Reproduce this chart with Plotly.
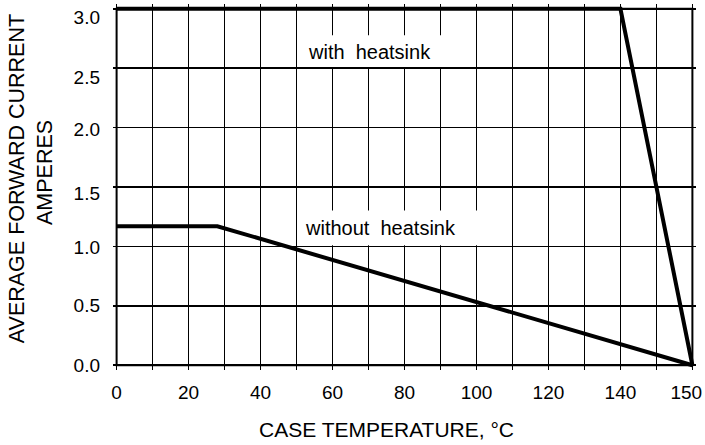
import plotly.graph_objects as go

# ---- data (x in chart grid units, y in amperes) ----
with_hs_x = [0, 140, 160]
with_hs_y = [3.0, 3.0, 0.0]
without_hs_x = [0, 28, 160]
without_hs_y = [1.17, 1.17, 0.0]

x_tick_labels = ["0", "20", "40", "60", "80", "100", "120", "140", "150"]
x_tick_values = [0, 20, 40, 60, 80, 100, 120, 140, 158.3]
y_tick_labels = ["0.0", "0.5", "1.0", "1.5", "2.0", "2.5", "3.0"]
y_tick_values = [0.0, 0.5, 0.99, 1.445, 1.985, 2.425, 2.931]

x_title = "CASE TEMPERATURE, °C"
y_title_1 = "AVERAGE FORWARD CURRENT"
y_title_2 = "AMPERES"
label_with = "with\u00a0 heatsink"
label_without = "without\u00a0 heatsink"

FONT = "Liberation Sans, Arial, sans-serif"
XR = [-1, 161]
YR = [-0.04, 3.04]

fig = go.Figure()
fig.add_trace(go.Scatter(x=with_hs_x, y=with_hs_y, mode="lines",
                         line=dict(color="black", width=4), showlegend=False, hoverinfo="skip"))
fig.add_trace(go.Scatter(x=without_hs_x, y=without_hs_y, mode="lines",
                         line=dict(color="black", width=4), showlegend=False, hoverinfo="skip"))
# invisible trace to activate label axes
fig.add_trace(go.Scatter(x=[None], y=[None], xaxis="x2", yaxis="y2", showlegend=False, hoverinfo="skip"))

grid_w = 1.6
fig.update_layout(
    width=705, height=445,
    margin=dict(l=113, r=9, t=4, b=75),
    paper_bgcolor="white", plot_bgcolor="white",
    font=dict(family=FONT, color="black", size=19),
    xaxis=dict(range=XR, tick0=0, dtick=10, showgrid=True, gridcolor="black", gridwidth=grid_w,
               showticklabels=False, zeroline=False, showline=False, ticks="", fixedrange=True),
    yaxis=dict(range=YR, tick0=0, dtick=0.5, showgrid=True, gridcolor="black", gridwidth=grid_w,
               showticklabels=False, zeroline=False, showline=False, ticks="", fixedrange=True),
    xaxis2=dict(range=XR, overlaying="x", anchor="y2", side="bottom", tickmode="array",
                tickvals=x_tick_values, ticktext=x_tick_labels, showgrid=False, zeroline=False,
                showline=False, ticks="", ticklabelstandoff=9, tickfont=dict(size=19)),
    yaxis2=dict(range=YR, overlaying="y", anchor="x2", side="left", tickmode="array",
                tickvals=y_tick_values, ticktext=y_tick_labels, showgrid=False, zeroline=False,
                showline=False, ticks="", ticklabelstandoff=12, tickfont=dict(size=19)),
)

shapes = [
    dict(type="rect", xref="x", yref="y", x0=50.4, x1=94.6, y0=2.51, y1=2.777,
         fillcolor="white", line=dict(width=0), layer="above"),
    dict(type="rect", xref="x", yref="y", x0=50.4, x1=104.9, y0=1.01, y1=1.302,
         fillcolor="white", line=dict(width=0), layer="above"),
    dict(type="rect", xref="x", yref="y", x0=0, x1=160, y0=0, y1=3.0,
         fillcolor="rgba(0,0,0,0)", line=dict(color="black", width=2), layer="above"),
]
fig.update_layout(shapes=shapes)

annots = [
    dict(text=label_with, x=70.4, y=2.633, xref="x", yref="y", showarrow=False,
         font=dict(size=20), xanchor="center", yanchor="middle"),
    dict(text=label_without, x=73.4, y=1.159, xref="x", yref="y", showarrow=False,
         font=dict(size=20), xanchor="center", yanchor="middle"),
    dict(text=x_title, x=(386.5 - 113) / 583, y=(370 - 429) / 366, xref="paper", yref="paper",
         showarrow=False, font=dict(size=21), xanchor="center", yanchor="middle"),
    dict(text=y_title_1, x=(16.7 - 113) / 583, y=(370 - 178.5) / 366, xref="paper", yref="paper",
         showarrow=False, font=dict(size=21.5), xanchor="center", yanchor="middle", textangle=-90),
    dict(text=y_title_2, x=(45 - 113) / 583, y=(370 - 173) / 366, xref="paper", yref="paper",
         showarrow=False, font=dict(size=21.5), xanchor="center", yanchor="middle", textangle=-90),
]
fig.update_layout(annotations=annots)

fig.write_html("out.html", config={"displayModeBar": False, "staticPlot": True},
               post_script="document.body.style.margin='0px';")
